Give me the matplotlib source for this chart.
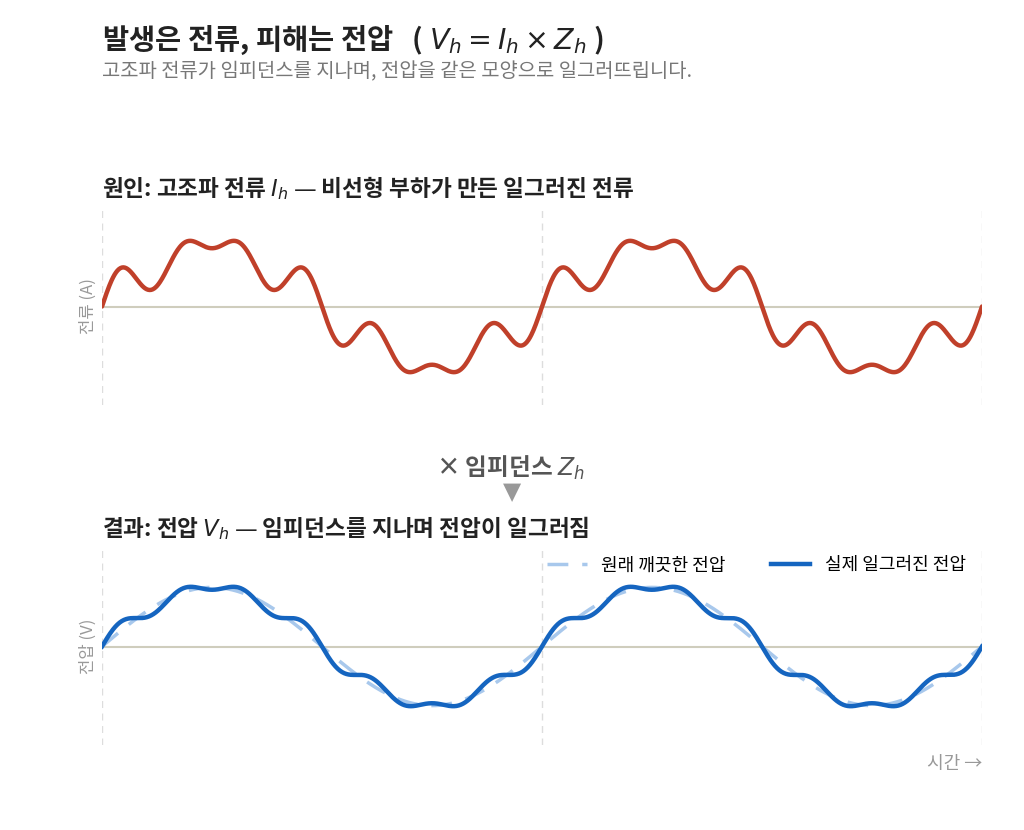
import numpy as np
import matplotlib.pyplot as plt

plt.rcParams['font.family'] = ['Noto Sans CJK KR', 'DejaVu Sans']
plt.rcParams['mathtext.fontset'] = 'dejavusans'

# harmonic content (order, amplitude)
cur_orders = [1, 3, 5, 7]
cur_amps = [1.0, -0.05, 0.2, 0.25]
volt_orders = [1, 5, 7]
volt_amps = [1.0, 0.06, 0.10]
clean_amp = 1.0
n_periods = 2

t = np.linspace(0, n_periods, 1200)
x = 2 * np.pi * t
cur = sum(a * np.sin(n * x) for n, a in zip(cur_orders, cur_amps))
volt = sum(a * np.sin(n * x) for n, a in zip(volt_orders, volt_amps))
clean = clean_amp * np.sin(x)

fig = plt.figure(figsize=(10.24, 8.3), dpi=100)
W, H = 1024, 830
def ax_at(l, t_, r, b):
    return fig.add_axes([l / W, 1 - b / H, (r - l) / W, (b - t_) / H])

red = '#c0402a'
blue = '#1565c0'
lblue = '#a8c8ec'
zero_c = '#cfcdbd'

ax1 = ax_at(102, 208, 982, 405)
ax2 = ax_at(102, 548, 982, 745)
for ax in (ax1, ax2):
    ax.set_xlim(0, n_periods)
    for v in np.arange(0, n_periods + 0.01, 1.0):
        ax.axvline(v, color='#dddddd', ls=(0, (5, 4)), lw=1, zorder=0)
    ax.axhline(0, color=zero_c, lw=1.5, zorder=1)
    ax.set_xticks([]); ax.set_yticks([])
    for s in ax.spines.values():
        s.set_visible(False)

ax1.plot(t, cur, color=red, lw=3.2, solid_capstyle='round')
ax1.set_ylim(-1.5 * cur.max(), 1.5 * cur.max())
ax1.set_ylabel('전류 (A)', color='#999999', fontsize=12)

ax2.plot(t, clean, color=lblue, lw=2.5, ls=(0, (6, 4)), label='원래 깨끗한 전압')
ax2.plot(t, volt, color=blue, lw=3.2, label='실제 일그러진 전압')
ax2.set_ylim(-1.65 * volt.max(), 1.65 * volt.max())
ax2.set_ylabel('전압 (V)', color='#999999', fontsize=12)
ax2.legend(loc='upper right', ncol=2, frameon=False, fontsize=13,
           bbox_to_anchor=(1.0, 1.04), handlelength=2.2, columnspacing=2.5)

fig.text(102 / W, 1 - 40 / H, '발생은 전류, 피해는 전압   ( $V_h = I_h \\times Z_h$ )',
         fontsize=20.5, fontweight='bold', color='#222222', va='center')
fig.text(102 / W, 1 - 72 / H, '고조파 전류가 임피던스를 지나며, 전압을 같은 모양으로 일그러뜨립니다.',
         fontsize=14.3, color='#777777', va='center')
fig.text(102 / W, 1 - 188 / H, '원인: 고조파 전류 $I_h$ — 비선형 부하가 만든 일그러진 전류',
         fontsize=16.3, fontweight='bold', color='#222222', va='center')
fig.text(102 / W, 1 - 528 / H, '결과: 전압 $V_h$ — 임피던스를 지나며 전압이 일그러짐',
         fontsize=16.3, fontweight='bold', color='#222222', va='center')
fig.text(510 / W, 1 - 468 / H, '× 임피던스 $Z_h$', fontsize=17, color='#555555',
         fontweight='bold', ha='center', va='center')
fig.text(512 / W, 1 - 492 / H, '▼', fontsize=17, color='#999999',
         ha='center', va='center', family=['DejaVu Sans'])
fig.text(982 / W, 1 - 764 / H, '시간 →', fontsize=13, color='#999999',
         ha='right', va='center')

fig.savefig('out.png', dpi=100, facecolor='white')
